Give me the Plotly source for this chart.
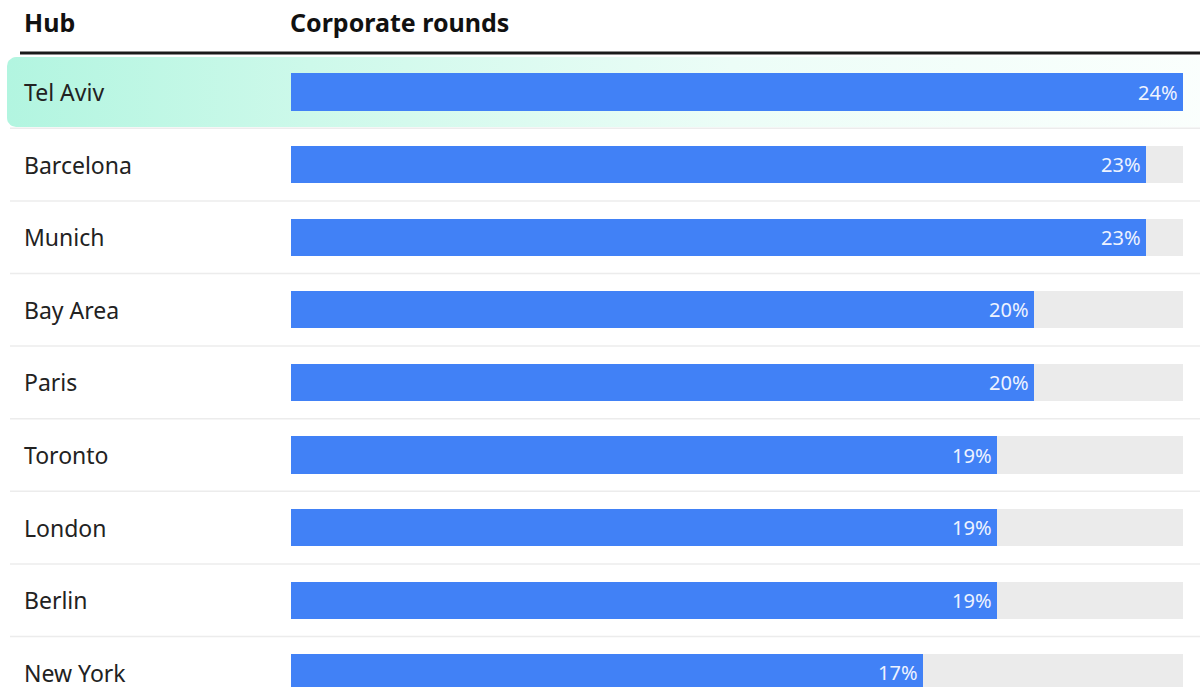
import plotly.graph_objects as go
import numpy as np

hubs = ["Tel Aviv", "Barcelona", "Munich", "Bay Area", "Paris", "Toronto", "London", "Berlin", "New York"]
values = [24, 23, 23, 20, 20, 19, 19, 19, 17]
value_labels = ["24%", "23%", "23%", "20%", "20%", "19%", "19%", "19%", "17%"]
track_max = 24
header_left = "Hub"
header_right = "Corporate rounds"

W, H = 1200, 687
X0PX, X1PX = 291, 1183
ROW0PX, ROWSTEP = 92, 72.6

def xd(px):
    return (px - X0PX) / (X1PX - X0PX) * track_max

def yd(px):
    return (px - ROW0PX) / ROWSTEP

FONT = "Noto Sans"
BLUE = "#4181f6"
n = len(hubs)
rows = list(range(n))

fig = go.Figure()

# highlight row (rounded rectangle with horizontal gradient) on base axes (drawn first)
left, right, top, bot, r = 7, 1215, 57, 127, 9
pts = []
for cx, cy, a0 in [(right - r, top + r, -90), (right - r, bot - r, 0), (left + r, bot - r, 90), (left + r, top + r, 180)]:
    for a in np.linspace(a0, a0 + 90, 8):
        t = np.radians(a)
        pts.append((cx + r * np.cos(t), cy + r * np.sin(t)))
pts.append(pts[0])
fig.add_trace(go.Scatter(
    x=[xd(p[0]) for p in pts], y=[yd(p[1]) for p in pts],
    mode="lines", line=dict(width=0), fill="toself",
    fillgradient=dict(type="horizontal",
                      colorscale=[[0, "#b2f5e0"], [0.25, "#cdf9ea"], [0.6, "#ecfdf7"], [1, "#fbfffd"]]),
    hoverinfo="skip", showlegend=False, xaxis="x", yaxis="y"))

# tracks (overlay axes, drawn above highlight)
fig.add_trace(go.Bar(x=[track_max] * n, y=rows, orientation="h", width=0.51,
                     marker=dict(color="#ebebeb", line=dict(width=0)),
                     hoverinfo="skip", showlegend=False, xaxis="x2", yaxis="y2"))
# values
fig.add_trace(go.Bar(x=values, y=rows, orientation="h", width=0.51,
                     marker=dict(color=BLUE, line=dict(width=0)),
                     showlegend=False, xaxis="x2", yaxis="y2"))

annotations = []
for i, (h, v, lab) in enumerate(zip(hubs, values, value_labels)):
    annotations.append(dict(x=22 / W, xref="paper", y=i, yref="y", text=h, showarrow=False,
                            xanchor="left", yanchor="middle",
                            font=dict(family=FONT, size=23, color="#222222")))
    annotations.append(dict(x=v, xref="x", y=i, yref="y", text=lab, showarrow=False,
                            xanchor="right", yanchor="middle", xshift=-3,
                            font=dict(family=FONT, size=20, color="#eef3ff")))

annotations.append(dict(x=22 / W, xref="paper", y=1 - 22 / H, yref="paper", text="<b>" + header_left + "</b>",
                        showarrow=False, xanchor="left", yanchor="middle",
                        font=dict(family=FONT, size=25, color="#111111")))
annotations.append(dict(x=288 / W, xref="paper", y=1 - 22 / H, yref="paper", text="<b>" + header_right + "</b>",
                        showarrow=False, xanchor="left", yanchor="middle",
                        font=dict(family=FONT, size=25, color="#111111")))

shapes = [dict(type="line", xref="paper", yref="paper", x0=20 / W, x1=1, y0=1 - 53 / H, y1=1 - 53 / H,
               line=dict(color="#1a1a1a", width=3))]
for i in range(n - 1):
    shapes.append(dict(type="line", xref="paper", yref="y", x0=10 / W, x1=1, y0=i + 0.5, y1=i + 0.5,
                       line=dict(color="#ececec", width=1.5), layer="below"))

xr = [xd(0), xd(W)]
yr = [yd(H), yd(0)]
fig.update_layout(
    width=W, height=H, margin=dict(l=0, r=0, t=0, b=0),
    paper_bgcolor="white", plot_bgcolor="rgba(0,0,0,0)",
    barmode="overlay", bargap=0,
    xaxis=dict(range=xr, visible=False, fixedrange=True),
    yaxis=dict(range=yr, visible=False, fixedrange=True),
    xaxis2=dict(range=xr, visible=False, fixedrange=True, overlaying="x"),
    yaxis2=dict(range=yr, visible=False, fixedrange=True, overlaying="y"),
    annotations=annotations, shapes=shapes,
)

fig.write_html("out.html")
